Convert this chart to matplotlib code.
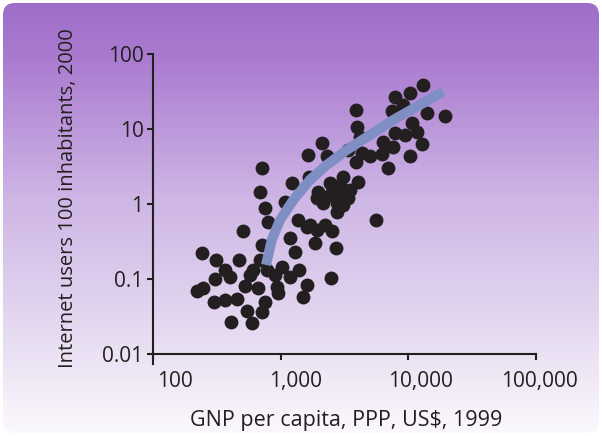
import numpy as np
import matplotlib.pyplot as plt
from matplotlib.patches import FancyBboxPatch
from matplotlib.ticker import FixedLocator, NullLocator
from matplotlib.transforms import ScaledTranslation

plt.rcParams['font.family'] = ['Open Sans', 'DejaVu Sans']

# GNP per capita (PPP, US$, 1999) for each country
gnp = [13090, 10300, 7850, 9120, 7400, 13900, 19400, 10600, 11600, 7850,
       9400, 6350, 7620, 12700, 10300, 6210, 6970, 3870, 3940, 2120,
       4180, 1640, 2320, 3380, 5000, 3870, 4340, 710, 689, 1220,
       1680, 2430, 3060, 2910, 4060, 1080, 753, 800, 504, 1370,
       1690, 1970, 2430, 2750, 2160, 1910, 2910, 3380, 2750, 3090,
       5570, 1600, 1910, 2510, 2220, 1180, 1860, 1290, 2710, 710,
       240, 310, 474, 689, 610, 366, 401, 306, 575, 777,
       902, 1020, 1180, 1400, 931, 948, 1600, 2480, 1490, 525,
       668, 220, 248, 302, 366, 457, 753, 542, 710, 406,
       593, 2570, 3490]
# internet users per 100 inhabitants, 2000
users = [38.6, 30.5, 27.0, 20.9, 17.5, 16.2, 14.9, 11.9, 9.2, 8.9,
         8.3, 6.8, 5.8, 6.4, 4.3, 4.6, 3.0, 17.9, 10.7, 6.6,
         7.9, 4.5, 4.3, 5.2, 4.3, 3.6, 4.8, 3.0, 1.46, 1.89,
         2.27, 1.89, 2.31, 1.79, 1.98, 1.07, 0.88, 0.58, 0.44, 0.61,
         0.52, 1.46, 1.32, 1.02, 1.02, 1.19, 1.25, 1.19, 0.79, 0.97,
         0.61, 0.50, 0.45, 0.43, 0.52, 0.35, 0.30, 0.23, 0.26, 0.28,
         0.22, 0.18, 0.18, 0.18, 0.13, 0.13, 0.107, 0.099, 0.113, 0.13,
         0.113, 0.146, 0.107, 0.13, 0.079, 0.066, 0.083, 0.102, 0.057, 0.081,
         0.075, 0.070, 0.075, 0.050, 0.052, 0.054, 0.050, 0.037, 0.036, 0.027,
         0.026, 1.63, 1.54]

# trend curve
fit_gnp = [768, 851, 988, 1256, 1690, 2290, 3290, 5000, 7620, 11600, 18750]
fit_users = [0.154, 0.331, 0.61, 1.13, 2.09, 3.31, 5.25, 8.32, 13.2, 19.8, 31.4]

xticks = [100, 1000, 10000, 100000]
xtick_labels = ['100', '1,000', '10,000', '100,000']
yticks = [0.01, 0.1, 1, 10, 100]
ytick_labels = ['0.01', '0.1', '1', '10', '100']

ink = '#231f20'
W, H = 602, 436
fig = plt.figure(figsize=(W / 100, H / 100), dpi=100)

# purple gradient panel with rounded corners
bg = fig.add_axes([0, 0, 1, 1])
bg.set_xlim(0, W)
bg.set_ylim(H, 0)
bg.axis('off')
rows = np.arange(H)
stops = [0, 60, 200, 330, 436]
r = np.interp(rows, stops, [156, 170, 206, 230, 252])
g = np.interp(rows, stops, [108, 124, 182, 218, 250])
b = np.interp(rows, stops, [200, 208, 229, 241, 253])
grad = np.dstack([r, g, b]).reshape(H, 1, 3) / 255
im = bg.imshow(grad, extent=[0, W, H, 0], aspect='auto', interpolation='bilinear')
panel = FancyBboxPatch((3, 3), W - 6, H - 6, boxstyle='round,pad=0,rounding_size=12',
                       transform=bg.transData, facecolor='none', edgecolor='none')
bg.add_patch(panel)
im.set_clip_path(panel)

ax = fig.add_axes([150 / W, 1 - 364 / H, 386 / W, 310 / H])
ax.set_facecolor('none')
ax.set_xscale('log')
ax.set_yscale('log')
ax.set_xlim(100 * 10 ** (-3 / 127.7), 1e5)
ax.set_ylim(0.01 * 10 ** (-10 / 75), 100)

ax.scatter(gnp, users, s=100, color=ink, linewidths=0, zorder=2)
ax.plot(fit_gnp, fit_users, color='#7f8fc4', lw=7.2, solid_capstyle='butt', zorder=3)

for side in ['top', 'right']:
    ax.spines[side].set_visible(False)
ax.spines['left'].set_position(('data', 100))
ax.spines['bottom'].set_position(('data', 0.01))
for side in ['left', 'bottom']:
    ax.spines[side].set_color(ink)
    ax.spines[side].set_linewidth(1.5)

ax.xaxis.set_major_locator(FixedLocator(xticks))
ax.yaxis.set_major_locator(FixedLocator(yticks))
ax.xaxis.set_minor_locator(NullLocator())
ax.yaxis.set_minor_locator(NullLocator())
ax.set_xticklabels(xtick_labels)
ax.set_yticklabels(ytick_labels)
ax.tick_params(direction='out', length=4.3, width=1.5, color=ink,
               labelsize=15, labelcolor=ink)
ax.tick_params(axis='x', pad=8)
ax.tick_params(axis='y', pad=2.5)

# labels sit a little right of their ticks in the original
for tick, dx in zip(ax.xaxis.get_major_ticks(), [22, 15, 12, 3]):
    lab = tick.label1
    lab.set_transform(lab.get_transform() + ScaledTranslation(dx / 100, 0, fig.dpi_scale_trans))

fig.text(346 / W, 1 - 426 / H, 'GNP per capita, PPP, US$, 1999', ha='center', va='baseline',
         fontsize=15.5, color=ink)
fig.text(68 / W, 1 - 198 / H, 'Internet users 100 inhabitants, 2000', ha='center', va='center',
         rotation=90, fontsize=14.5, color=ink)

fig.savefig('out.png', dpi=100)
